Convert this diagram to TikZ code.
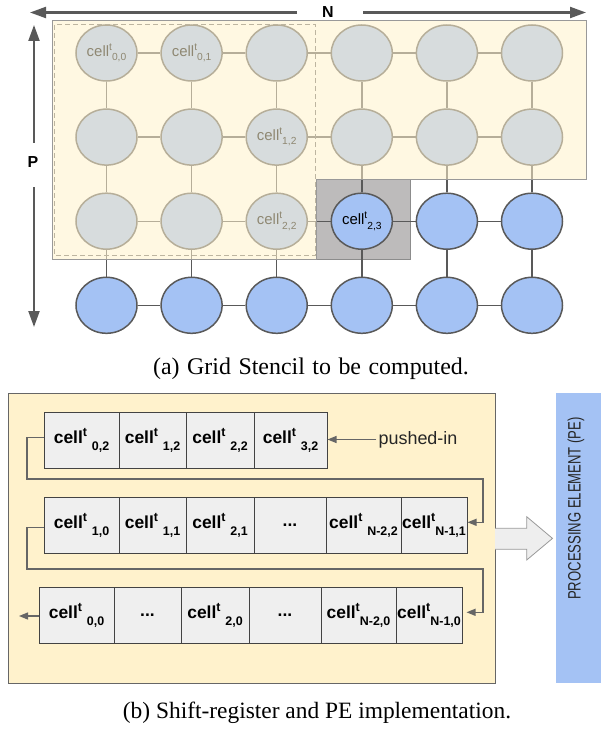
\documentclass[tikz,border=0pt]{standalone}
\usepackage{fontspec}
\setmainfont{Liberation Serif}
\setsansfont{Liberation Sans}
\usetikzlibrary{arrows.meta,shapes.geometric}
\definecolor{ovl}{HTML}{FFF2CC}
\definecolor{blu}{HTML}{A4C2F4}
\definecolor{dk}{HTML}{595959}
\definecolor{boxg}{HTML}{BDBBBB}
\definecolor{regf}{HTML}{EFEFEF}
\definecolor{regb}{HTML}{434343}
\definecolor{wirec}{HTML}{666666}
\definecolor{dashc}{HTML}{BDB5A0}
\definecolor{bigarr}{HTML}{EEEEEE}
\newcommand{\tcl}[1]{cell\raisebox{0.4em}{\fontsize{10.3}{10.3}\selectfont t}\raisebox{-0.3em}{\fontsize{10.3}{10.3}\selectfont #1}}
\newcommand{\bcl}[2]{cell\raisebox{0.42em}{\fontsize{12.5}{12.5}\selectfont t}#1\raisebox{-0.4em}{\fontsize{12.5}{12.5}\selectfont #2}}
\newcommand{\wsp}{\hspace{7.5bp}}
\begin{document}
\begin{tikzpicture}[x=1bp,y=-1bp,
  circ/.style={ellipse,draw=dk,fill=blu,line width=1.5bp,minimum width=61bp,minimum height=56bp,inner sep=0pt,font=\sffamily\fontsize{15}{15}\selectfont,text=black},
  lnk/.style={draw=dk,line width=1.4bp},
  reg/.style={rectangle,draw=regb,fill=regf,line width=1bp,minimum height=56bp,inner sep=0.5bp,font=\sffamily\bfseries\fontsize{17.5}{17.5}\selectfont},
  wire/.style={draw=wirec,line width=1.2bp},
  arr/.style={-{Triangle[length=9bp,width=7bp]}},
  axis/.style={draw=dk,line width=2.2bp,-{Triangle[length=16bp,width=11bp]}},
  captxt/.style={font=\rmfamily\fontsize{23.5}{23.5}\selectfont,anchor=base},
  lbl/.style={font=\sffamily\bfseries\fontsize{16}{16}\selectfont,text=black}
]
\useasboundingbox (0,0) rectangle (601,729);

% ---------- (a) grid stencil ----------
\filldraw[fill=boxg,draw=black!45,line width=0.8bp] (316,179.3) rectangle (410.7,259.3);

\node[circ] (n00) at (106.5,53) {\tcl{0,0}};
\node[circ] (n01) at (191.6,53) {\tcl{0,1}};
\node[circ] (n02) at (276.7,53) {};
\node[circ] (n03) at (361.8,53) {};
\node[circ] (n04) at (446.9,53) {};
\node[circ] (n05) at (532,53) {};
\node[circ] (n10) at (106.5,137.1) {};
\node[circ] (n11) at (191.6,137.1) {};
\node[circ] (n12) at (276.7,137.1) {\tcl{1,2}};
\node[circ] (n13) at (361.8,137.1) {};
\node[circ] (n14) at (446.9,137.1) {};
\node[circ] (n15) at (532,137.1) {};
\node[circ] (n20) at (106.5,221.2) {};
\node[circ] (n21) at (191.6,221.2) {};
\node[circ] (n22) at (276.7,221.2) {\tcl{2,2}};
\node[circ] (n23) at (361.8,221.2) {\tcl{2,3}};
\node[circ] (n24) at (446.9,221.2) {};
\node[circ] (n25) at (532,221.2) {};
\node[circ] (n30) at (106.5,305.3) {};
\node[circ] (n31) at (191.6,305.3) {};
\node[circ] (n32) at (276.7,305.3) {};
\node[circ] (n33) at (361.8,305.3) {};
\node[circ] (n34) at (446.9,305.3) {};
\node[circ] (n35) at (532,305.3) {};

\foreach \r in {0,...,3}
  \foreach \c [count=\d] in {0,...,4}
    \draw[lnk] (n\r\c) -- (n\r\d);
\foreach \c in {0,...,5}
  \foreach \r [count=\s] in {0,...,2}
    \draw[lnk] (n\r\c) -- (n\s\c);

% translucent highlight region
\path[fill=ovl,fill opacity=0.56,draw=black!40,line width=1bp]
  (52,20.7) -- (586,20.7) -- (586,179.3) -- (316,179.3) -- (316,259.3) -- (52,259.3) -- cycle;
\draw[dashc,dash pattern=on 5bp off 3bp,line width=1bp] (54.5,25) rectangle (315.7,255.5);

% axes
\node[lbl] (N) at (328,12.5) {N};
\node[lbl] (P) at (33,162) {P};
\coordinate (nlt) at (30,12.5);
\coordinate (nrt) at (586,12.5);
\coordinate (put) at (34,25);
\coordinate (pdt) at (34,327);
\draw[axis,shorten <=31bp] (N.center) -- (nlt);
\draw[axis,shorten <=35bp] (N.center) -- (nrt);
\draw[axis,shorten <=19bp] (P.center -| put) -- (put);
\draw[axis,shorten <=25bp] (P.center -| pdt) -- (pdt);

\node[captxt,font=\rmfamily\fontsize{24}{24}\selectfont] (capa) at (311,374.5) {(a)\wsp Grid\wsp Stencil\wsp to\wsp be\wsp computed.};

% ---------- (b) shift register ----------
\filldraw[fill=ovl,draw=black!60,line width=1bp] (8.3,393.3) rectangle (495,683.3);
\fill[blu] (556,392.7) rectangle (601,683);
\node[rotate=90,font=\sffamily\fontsize{18}{18}\selectfont,text=black!85] (pe) at (576,508.5) {\scalebox{0.73}[1]{PROCESSING ELEMENT (PE)}};

% big hollow arrow
\fill[bigarr] (495,528.3) -- (526.7,528.3) -- (526.7,516.7) -- (552.5,538.4) -- (526.7,560) -- (526.7,549.3) -- (495,549.3) -- cycle;
\draw[black!40,line width=0.8bp] (495,528.3) -- (526.7,528.3) -- (526.7,516.7) -- (552.5,538.4) -- (526.7,560) -- (526.7,549.3) -- (495,549.3);

% row 1
\node[reg,minimum width=75bp] (a1) at (81.5,440.3) {\bcl{\ }{0,2}};
\node[reg,minimum width=67bp] (a2) at (152.5,440.3) {\bcl{\ }{1,2}};
\node[reg,minimum width=68bp] (a3) at (220,440.3) {\bcl{\ }{2,2}};
\node[reg,minimum width=73bp] (a4) at (290.5,440.3) {\bcl{\ }{3,2}};
% row 2
\node[reg,minimum width=75bp] (b1) at (81.5,525.3) {\bcl{\ }{1,0}};
\node[reg,minimum width=67bp] (b2) at (152.5,525.3) {\bcl{\ }{1,1}};
\node[reg,minimum width=68bp] (b3) at (220,525.3) {\bcl{\ }{2,1}};
\node[reg,minimum width=72bp] (b4) at (290,525.3) {...};
\node[reg,minimum width=75bp] (b5) at (363.5,525.3) {\bcl{\ }{N-2,2}};
\node[reg,minimum width=66bp] (b6) at (434,525.3) {\bcl{}{N-1,1}};
% row 3
\node[reg,minimum width=75bp] (c1) at (76.5,615.3) {\bcl{\ }{0,0}};
\node[reg,minimum width=67bp] (c2) at (147.5,615.3) {...};
\node[reg,minimum width=68bp] (c3) at (215,615.3) {\bcl{\ }{2,0}};
\node[reg,minimum width=72bp] (c4) at (285,615.3) {...};
\node[reg,minimum width=75bp] (c5) at (358.5,615.3) {\bcl{}{N-2,0}};
\node[reg,minimum width=66bp] (c6) at (429,615.3) {\bcl{}{N-1,0}};

% wires
\node[font=\sffamily\fontsize{18}{18}\selectfont,text=black!85,inner sep=2bp] (push) at (418,439.5) {pushed-in};
\draw[wire,arr] (push.west) -- (push.west -| a4.east);

\coordinate (l1) at (27,479);
\coordinate (r1) at (483,479);
\draw[wire,arr] ([yshift=3bp]a1.west) -| (l1) -- (r1) |- ([yshift=3bp]b6.east);
\coordinate (l2) at (27,569);
\coordinate (r2) at (483,569);
\draw[wire,arr,shorten >=4bp] ([yshift=-2bp]b1.west) -| (l2) -- (r2) |- ([yshift=3bp]c6.east);
\coordinate (outp) at (19,616);
\draw[wire,arr] (c1.west |- outp) -- (outp);

\node[captxt] (capb) at (317,718.5) {(b) Shift-register and PE implementation.};
\end{tikzpicture}
\end{document}
